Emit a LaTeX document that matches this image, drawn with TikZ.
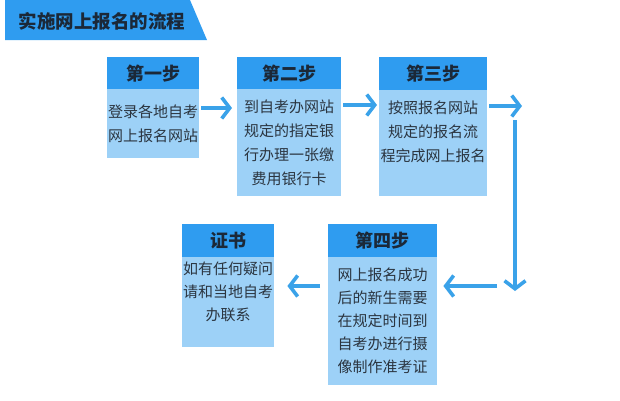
\documentclass[tikz,border=0pt]{standalone}
\usepackage{fontspec}
\setmainfont{Noto Sans CJK SC}
\usetikzlibrary{arrows.meta,calc}
\definecolor{hdrblue}{HTML}{2F9CF0}
\definecolor{bodyblue}{HTML}{9DD1F7}
\definecolor{arrblue}{HTML}{3AA2E9}
\definecolor{darktxt}{HTML}{1B2838}
\definecolor{bodytxt}{HTML}{2B3540}
\tikzset{
  hdr/.style={fill=hdrblue, anchor=north west, inner sep=0pt, minimum height=32pt,
    text=darktxt, font=\fontsize{18}{20}\selectfont\bfseries},
  bdy/.style={fill=bodyblue, anchor=north west, inner sep=0pt, align=center,
    text=bodytxt, font=\fontsize{15}{24}\selectfont},
  arr/.style={draw=arrblue, line width=3.6pt, -{Straight Barb[length=8pt,width=21pt,line width=3.6pt]}},
  plain/.style={draw=arrblue, line width=3.6pt}
}
\begin{document}
\begin{tikzpicture}[x=1pt,y=-1pt]
\useasboundingbox (0,0) rectangle (620,400);
% banner
\fill[hdrblue] (5,0) -- (190,0) -- (207,40) -- (5,40) -- cycle;
\node[text=darktxt, font=\fontsize{18.5}{20}\selectfont\bfseries, anchor=west] (title) at (15,21) {实施网上报名的流程};
% box 1
\node[hdr, minimum width=92pt] (h1) at (107,57) {第一步};
\node[bdy, minimum width=92pt, minimum height=69pt] (b1) at (107,89) {登录各地自考\\网上报名网站};
% box 2
\node[hdr, minimum width=104pt] (h2) at (237,57) {第二步};
\node[bdy, minimum width=104pt, minimum height=107pt] (b2) at (237,89) {到自考办网站\\规定的指定银\\行办理一张缴\\费用银行卡};
% box 3
\node[hdr, minimum width=108pt, minimum height=33pt] (h3) at (379,57) {第三步};
\node[bdy, minimum width=108pt, minimum height=106pt] (b3) at (379,90) {按照报名网站\\规定的报名流\\程完成网上报名\\[0pt]\rule{0pt}{10pt}};
% box 4
\node[hdr, minimum width=109pt, minimum height=33pt] (h4) at (328,224) {第四步};
\node[bdy, minimum width=109pt, minimum height=128pt, font=\fontsize{15}{23}\selectfont] (b4) at (328,257) {网上报名成功\\后的新生需要\\在规定时间到\\自考办进行摄\\像制作准考证};
% box 5
\node[hdr, minimum width=92pt, minimum height=33pt] (h5) at (182,224) {证书};
\node[bdy, minimum width=92pt, minimum height=90pt, font=\fontsize{15}{23}\selectfont] (b5) at (182,257) {如有任何疑问\\请和当地自考\\办联系\\[0pt]\rule{0pt}{4pt}};
% free ends
\coordinate (r3) at (522,106);
\coordinate (vtop) at (515,120);
\coordinate (vbot) at (515,291);
\coordinate (lstart) at (497,286);
% connectors
\draw[arr] ($(b1.north east)+(2,19)$) -- ($(b2.north west)+(-5,19)$);
\draw[arr] ($(b2.north east)+(2,16)$) -- ($(b3.north west)+(-2,15)$);
\draw[arr] ($(b3.north east)+(2,16)$) -- (r3);
\draw[arr] (vtop) -- (vbot);
\draw[arr] (lstart) -- ($(b4.north east)+(6,29)$);
\draw[arr] ($(b4.north west)+(-8,29)$) -- ($(b5.north east)+(13,29)$);
\end{tikzpicture}
\end{document}
